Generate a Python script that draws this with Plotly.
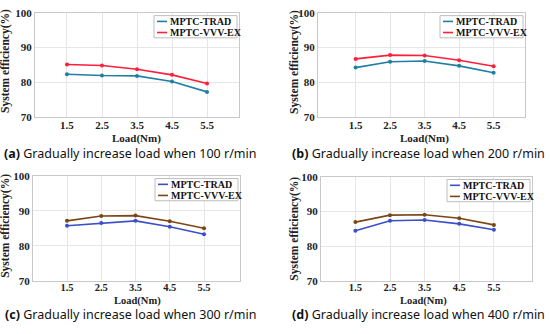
import plotly.graph_objects as go

loads = [1.5, 2.5, 3.5, 4.5, 5.5]
tick_labels = ["1.5", "2.5", "3.5", "4.5", "5.5"]

trad_100 = [82.3, 81.9, 81.8, 80.2, 77.2]
vvv_100 = [85.1, 84.8, 83.7, 82.1, 79.6]
trad_200 = [84.2, 85.9, 86.1, 84.7, 82.7]
vvv_200 = [86.7, 87.8, 87.7, 86.3, 84.6]
trad_300 = [85.7, 86.5, 87.1, 85.4, 83.3]
vvv_300 = [87.1, 88.5, 88.6, 87.0, 85.0]
trad_400 = [84.4, 87.3, 87.5, 86.4, 84.7]
vvv_400 = [86.9, 88.9, 89.0, 88.0, 86.1]

captions = [
    "<b>(a)</b> Gradually increase load when 100 r/min",
    "<b>(b)</b> Gradually increase load when 200 r/min",
    "<b>(c)</b> Gradually increase load when 300 r/min",
    "<b>(d)</b> Gradually increase load when 400 r/min",
]
series_names = ["MPTC-TRAD", "MPTC-VVV-EX"]
x_title = "Load(Nm)"
y_title = "System efficiency(%)"

W, H = 550, 334

panels = [
    dict(l=35, r=239, t=7, b=115, xr=[0.586, 6.414], data=(trad_100, vvv_100),
         colors=("#1f7fa3", "#ff1f3a"), cap=(130, 153), xt=(136, 137), yt=(6, 57)),
    dict(l=318, r=525, t=7, b=115, xr=[0.41, 6.41], data=(trad_200, vvv_200),
         colors=("#1f7fa3", "#ff1f3a"), cap=(418, 153), xt=(424, 137), yt=(295, 58)),
    dict(l=33, r=240, t=176, b=285, xr=[0.507, 6.55], data=(trad_300, vvv_300),
         colors=("#3b4fc6", "#7b4614"), cap=(130, 320), xt=(137, 306.5), yt=(6, 228)),
    dict(l=321, r=532, t=177, b=285, xr=[0.507, 6.6], data=(trad_400, vvv_400),
         colors=("#3b4fc6", "#7b4614"), cap=(418, 320), xt=(423, 306.5), yt=(295, 231)),
]

fig = go.Figure()
serif = "Liberation Serif"
axis_font = dict(family=serif, size=11, color="#222", weight="bold")

for i, p in enumerate(panels):
    n = "" if i == 0 else str(i + 1)
    xa, ya = "x" + n, "y" + n
    bottom_row = i >= 2
    for k in range(2):
        fig.add_trace(go.Scatter(
            x=loads, y=p["data"][k], mode="lines+markers", name=series_names[k],
            line=dict(color=p["colors"][k], width=1.6),
            marker=dict(size=4, color=p["colors"][k]),
            xaxis=xa, yaxis=ya, showlegend=False))
    xd = [p["l"] / W, p["r"] / W]
    yd = [(H - p["b"]) / H, (H - p["t"]) / H]
    fig.update_layout(**{
        "xaxis" + n: dict(domain=xd, range=p["xr"], tickvals=loads, ticktext=tick_labels,
                          anchor=ya, showgrid=True, gridcolor="#e6e6e6", gridwidth=1,
                          showline=True, linecolor="#c8c8c8", mirror=True, zeroline=False,
                          tickfont=dict(family=serif, size=10.5 if bottom_row else 11,
                                        color="#222", weight="bold"),
                          ticks="", ticklabelstandoff=-3 if bottom_row else -2),
        "yaxis" + n: dict(domain=yd, range=[70, 100], tickvals=[70, 80, 90, 100],
                          anchor=xa, showgrid=True, gridcolor="#e6e6e6", gridwidth=1,
                          showline=True, linecolor="#c8c8c8", mirror=True, zeroline=False,
                          tickfont=axis_font, ticks="", ticklabelstandoff=0),
    })
    fig.add_annotation(x=p["xt"][0] / W, y=(H - p["xt"][1]) / H, xref="paper", yref="paper",
                       text="<b>" + x_title + "</b>", showarrow=False,
                       xanchor="center", yanchor="middle",
                       font=dict(family=serif, size=10.5 if bottom_row else 11, color="#222"))
    fig.add_annotation(x=p["yt"][0] / W, y=(H - p["yt"][1]) / H, xref="paper", yref="paper",
                       text="<b>" + y_title + "</b>", showarrow=False, textangle=-90,
                       xanchor="center", yanchor="middle",
                       font=dict(family=serif, size=11.5, color="#222"))
    # legend box
    lx0 = p["r"] - 85
    lx1 = p["r"] - 2
    ly0 = p["t"] + 3
    ly1 = p["t"] + 26
    fig.add_shape(type="rect", xref="paper", yref="paper",
                  x0=lx0 / W, x1=lx1 / W, y0=(H - ly1) / H, y1=(H - ly0) / H,
                  line=dict(color="#bdbdbd", width=1), fillcolor="white", layer="above")
    for k in range(2):
        yy = ly0 + 6 + k * 11.5
        fig.add_shape(type="line", xref="paper", yref="paper",
                      x0=(lx0 + 3) / W, x1=(lx0 + 13) / W, y0=(H - yy) / H, y1=(H - yy) / H,
                      line=dict(color=p["colors"][k], width=1.6), layer="above")
        fig.add_annotation(x=(lx0 + 14) / W, y=(H - yy) / H, xref="paper", yref="paper",
                           text="<b>" + series_names[k] + "</b>", showarrow=False,
                           xanchor="left", yanchor="middle",
                           font=dict(family=serif, size=10, color="#111"))
    fig.add_annotation(x=p["cap"][0] / W, y=(H - p["cap"][1]) / H, xref="paper", yref="paper",
                       text=captions[i], showarrow=False, xanchor="center", yanchor="middle",
                       font=dict(family="Noto Sans", size=12.5, color="#111"))

fig.update_layout(width=W, height=H, margin=dict(l=0, r=0, t=0, b=0),
                  paper_bgcolor="white", plot_bgcolor="white", showlegend=False)

fig.write_html("out.html", config={"displayModeBar": False},
               post_script="document.body.style.margin='0';")
